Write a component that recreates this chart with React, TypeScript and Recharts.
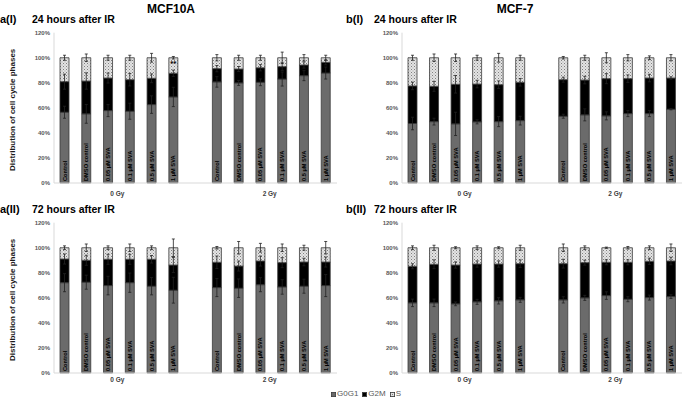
import React from "react";
import { BarChart, Bar, XAxis, YAxis, ErrorBar, LabelList } from "recharts";

const treatments = ["Control", "DMSO control", "0.05 µM SVA", "0.1 µM SVA", "0.5 µM SVA", "1 µM SVA"];
const doses = ["0 Gy", "2 Gy"];
const yTicks = [0, 20, 40, 60, 80, 100, 120];

// MCF10A, 24 h after IR
const a1G0G1 = [56.5, 55.2, 57.8, 57.3, 62.6, 68.7, 80.7, 79.9, 80.4, 83.0, 85.7, 87.8];
const a1G2M = [24.4, 26.2, 26.0, 25.2, 21.0, 18.9, 10.6, 11.1, 11.6, 9.9, 8.5, 8.5];
const a1S = [19.1, 18.6, 16.2, 17.5, 16.4, 12.4, 8.7, 9.0, 8.0, 7.1, 5.8, 3.7];
const a1G0G1Err = [4.8, 7.5, 4.8, 6.4, 7, 7.7, 4.2, 2, 2.7, 5.6, 4, 4.8];
const a1G2MErr = [6, 6.5, 4, 5, 3.5, 2.5, 2.5, 2, 2.5, 3, 2.5, 2];
const a1SErr = [2, 3, 2, 2, 3.5, 1, 2.5, 2, 2, 4.5, 2.5, 2];
const a1Marks = ["", "", "", "", "", "**", "", "", "", "", "", ""];

// MCF-7, 24 h after IR
const b1G0G1 = [47.5, 49.0, 47.2, 48.8, 49.0, 49.8, 53.3, 54.4, 53.6, 55.4, 55.4, 58.9];
const b1G2M = [30.0, 28.2, 31.6, 30.2, 29.5, 30.6, 29.2, 27.8, 29.7, 27.9, 28.4, 24.9];
const b1S = [22.5, 22.8, 21.2, 21.0, 21.5, 19.6, 17.5, 17.8, 16.7, 16.7, 16.2, 16.2];
const b1G0G1Err = [5, 2.7, 9.3, 1.6, 4, 3.5, 1.6, 4.8, 3.2, 2.4, 2.4, 0.5];
const b1G2MErr = [3, 4, 7, 3, 3, 3, 2, 3, 4, 3, 3, 1];
const b1SErr = [2, 3, 3, 2, 3.5, 2, 1, 2, 4, 2.5, 1.5, 2.5];

// MCF10A, 72 h after IR
const a2G0G1 = [72.1, 72.5, 69.8, 72.1, 69.3, 66.1, 68.2, 67.7, 70.5, 68.7, 69.3, 69.8];
const a2G2M = [18.9, 17.5, 21.0, 18.7, 21.5, 20.1, 20.2, 17.7, 18.9, 19.4, 19.3, 18.8];
const a2S = [9.0, 10.0, 9.2, 9.2, 9.2, 13.8, 11.6, 14.6, 10.6, 11.9, 11.4, 11.4];
const a2G0G1Err = [7.2, 5.6, 7.4, 7.7, 6.9, 10.3, 7.2, 7.4, 5.6, 5.8, 5.6, 8.8];
const a2G2MErr = [4, 4, 4, 4, 3, 6, 5, 4, 4, 4, 3, 4];
const a2SErr = [1.5, 3, 1.5, 3, 1.5, 7, 1, 5, 3.5, 3, 2, 5];

// MCF-7, 72 h after IR
const b2G0G1 = [56.0, 56.0, 55.2, 56.8, 57.6, 58.4, 58.4, 60.0, 61.8, 58.9, 60.2, 61.0];
const b2G2M = [29.2, 30.8, 31.0, 30.2, 29.4, 28.9, 28.9, 28.1, 26.6, 29.5, 29.0, 28.4];
const b2S = [14.8, 13.2, 13.8, 13.0, 13.0, 12.7, 12.7, 11.9, 11.6, 11.6, 10.8, 10.6];
const b2G0G1Err = [3, 3, 1.5, 2, 2.5, 2, 2.5, 2, 3, 2, 2, 1.5];
const b2G2MErr = [2, 3.5, 2.5, 2.5, 2.5, 3, 3.5, 2, 2, 2, 2.5, 3];
const b2SErr = [1.5, 2, 0.8, 1.5, 0.8, 2, 3, 1.5, 0.5, 1, 1.5, 3];

const FONT = "'Liberation Sans', Arial, sans-serif";
const G0G1_FILL = "#6b6b6b";
const G2M_FILL = "#000000";
const EDGE = "#3a3a3a";

type Series = {
  g0g1: number[];
  g2m: number[];
  s: number[];
  g0g1Err: number[];
  g2mErr: number[];
  sErr: number[];
  marks?: string[];
};

function buildRows(p: Series) {
  const rows: any[] = [];
  for (let i = 0; i < 12; i++) {
    if (i === 6) rows.push({ key: "gap", treatment: "", mark: "" });
    rows.push({
      key: `${doses[Math.floor(i / 6)]}-${i % 6}`,
      treatment: treatments[i % 6],
      G0G1: p.g0g1[i],
      G2M: p.g2m[i],
      S: p.s[i],
      e1: p.g0g1Err[i],
      e2: p.g2mErr[i],
      e3: p.sErr[i],
      mark: p.marks ? p.marks[i] : "",
    });
  }
  return rows;
}

const BarName = (props: any) => {
  const { x, y, width, height, value } = props;
  if (!value) return null;
  const tx = x + width / 2 + 2;
  const ty = y + height - 2;
  return (
    <text x={tx} y={ty} transform={`rotate(-90 ${tx} ${ty})`} fontSize={5.7} fontWeight="bold" fill="#000" fontFamily={FONT} textAnchor="start">
      {value}
    </text>
  );
};

const MarkLabel = (props: any) => {
  const { x, y, width, value } = props;
  if (!value) return null;
  return (
    <text x={x + width / 2} y={y + 8} fontSize={8} fontWeight="bold" fill="#000" fontFamily={FONT} textAnchor="middle">
      {value}
    </text>
  );
};

type PanelProps = Series & {
  id: string;
  left: number;
  top: number;
  width: number;
  marginLeft: number;
  marginRight: number;
  groupDy: number;
  yTitle?: string;
};

const YAXIS_W = 36;

function Panel(p: PanelProps) {
  const rows = buildRows(p);
  const slot = (p.width - p.marginLeft - YAXIS_W - p.marginRight) / 13;
  const groupTick = (props: any) => {
    const { x, y, payload } = props;
    const idx = payload.index;
    let label = "";
    if (idx === 2) label = doses[0];
    if (idx === 9) label = doses[1];
    if (!label) return null;
    return (
      <text x={x + slot / 2 - 2} y={y + p.groupDy} fontSize={6.5} fontWeight="bold" fill="#404040" fontFamily={FONT} textAnchor="middle">
        {label}
      </text>
    );
  };
  const yTitle = (props: any) => {
    const vb = props.viewBox;
    const cx = 15;
    const cy = vb.y + vb.height / 2 + 2;
    return (
      <text x={cx} y={cy} transform={`rotate(-90 ${cx} ${cy})`} fontSize={8} fontWeight="bold" fill="#1a1a1a" fontFamily={FONT} textAnchor="middle">
        {p.yTitle}
      </text>
    );
  };
  const pid = `spat-${p.id}`;
  return (
    <div style={{ position: "absolute", left: p.left, top: p.top }}>
      <BarChart
        width={p.width}
        height={200}
        data={rows}
        margin={{ top: 32.7, right: p.marginRight, bottom: 2, left: p.marginLeft }}
        barSize={9}
      >
        <defs>
          <pattern id={pid} width="3" height="3" patternUnits="userSpaceOnUse">
            <rect width="3" height="3" fill="#e4e4e4" />
            <rect x="0" y="0" width="1" height="1" fill="#808080" />
            <rect x="1.5" y="1.5" width="1" height="1" fill="#a0a0a0" />
          </pattern>
        </defs>
        <XAxis
          dataKey="key"
          height={15}
          interval={0}
          tickLine={false}
          tickSize={0}
          tickMargin={2}
          axisLine={{ stroke: "#d9d9d9" }}
          tick={groupTick}
        />
        <XAxis xAxisId="top" dataKey="key" orientation="top" height={0} tick={false} tickLine={false} axisLine={{ stroke: "#d9d9d9" }} />
        <YAxis
          width={YAXIS_W}
          domain={[0, 120]}
          ticks={yTicks}
          tickFormatter={(v: number) => `${v}%`}
          tickLine={false}
          tickSize={0}
          tickMargin={4}
          axisLine={{ stroke: "#d9d9d9" }}
          tick={{ fontSize: 6, fontWeight: "bold", fill: "#595959", fontFamily: FONT }}
          label={p.yTitle ? { content: yTitle } : undefined}
        />
        <YAxis yAxisId="right" orientation="right" width={0} domain={[0, 120]} tick={false} tickLine={false} axisLine={{ stroke: "#d9d9d9" }} />
        <Bar dataKey="G0G1" stackId="a" fill={G0G1_FILL} stroke={EDGE} strokeWidth={0.8} isAnimationActive={false}>
          <ErrorBar dataKey="e1" direction="y" width={1.5} stroke="#222" strokeWidth={0.8} />
          <LabelList dataKey="treatment" content={BarName} />
        </Bar>
        <Bar dataKey="G2M" stackId="a" fill={G2M_FILL} stroke={EDGE} strokeWidth={0.8} isAnimationActive={false}>
          <ErrorBar dataKey="e2" direction="y" width={1.5} stroke="#222" strokeWidth={0.8} />
        </Bar>
        <Bar dataKey="S" stackId="a" fill={`url(#${pid})`} stroke={EDGE} strokeWidth={0.8} isAnimationActive={false}>
          <ErrorBar dataKey="e3" direction="y" width={1.5} stroke="#222" strokeWidth={0.8} />
          <LabelList dataKey="mark" content={MarkLabel} />
        </Bar>
      </BarChart>
    </div>
  );
}

const txt = (left: number, top: number, text: string, size: number, extra: any = {}) => (
  <div
    style={{
      position: "absolute",
      left,
      top,
      fontSize: size,
      fontWeight: "bold",
      fontFamily: FONT,
      color: "#000",
      lineHeight: 1,
      whiteSpace: "nowrap",
      ...extra,
    }}
  >
    {text}
  </div>
);

const LegendSwatch = ({ kind }: { kind: string }) => (
  <svg width={5} height={5} style={{ marginRight: 1 }}>
    <defs>
      <pattern id="legpat" width="2" height="2" patternUnits="userSpaceOnUse">
        <rect width="2" height="2" fill="#e0e0e0" />
        <rect width="1" height="1" fill="#808080" />
      </pattern>
    </defs>
    <rect
      x={0.4}
      y={0.4}
      width={4.2}
      height={4.2}
      fill={kind === "G0G1" ? G0G1_FILL : kind === "G2M" ? G2M_FILL : "url(#legpat)"}
      stroke={EDGE}
      strokeWidth={0.8}
    />
  </svg>
);

const legendItems = ["G0G1", "G2M", "S"];

export default function App() {
  return (
    <div style={{ position: "absolute", left: 0, top: 0, width: 684, height: 403, background: "#fff", overflow: "hidden" }}>
      {txt(146, 3, "MCF10A", 12, { width: 50, textAlign: "center" })}
      {txt(495, 3, "MCF-7", 12, { width: 40, textAlign: "center" })}

      {txt(0, 14, "a(I)", 11)}
      {txt(32, 14, "24 hours after IR", 10.5)}
      {txt(346, 14, "b(I)", 11)}
      {txt(374, 14, "24 hours after IR", 10.5)}
      {txt(0, 204, "a(II)", 11)}
      {txt(32, 204, "72 hours after IR", 10.5)}
      {txt(346, 204, "b(II)", 11)}
      {txt(374, 204, "72 hours after IR", 10.5)}

      <Panel id="a1" left={0} top={0} width={340} marginLeft={18} marginRight={3} groupDy={11} yTitle="Distribution of cell cycle phases"
        g0g1={a1G0G1} g2m={a1G2M} s={a1S} g0g1Err={a1G0G1Err} g2mErr={a1G2MErr} sErr={a1SErr} marks={a1Marks} />
      <Panel id="b1" left={342} top={0} width={342} marginLeft={24} marginRight={2} groupDy={11}
        g0g1={b1G0G1} g2m={b1G2M} s={b1S} g0g1Err={b1G0G1Err} g2mErr={b1G2MErr} sErr={b1SErr} />
      <Panel id="a2" left={0} top={190} width={340} marginLeft={18} marginRight={3} groupDy={7} yTitle="Distribution of cell cycle phases"
        g0g1={a2G0G1} g2m={a2G2M} s={a2S} g0g1Err={a2G0G1Err} g2mErr={a2G2MErr} sErr={a2SErr} />
      <Panel id="b2" left={342} top={190} width={342} marginLeft={24} marginRight={2} groupDy={7}
        g0g1={b2G0G1} g2m={b2G2M} s={b2S} g0g1Err={b2G0G1Err} g2mErr={b2G2MErr} sErr={b2SErr} />

      <div style={{ position: "absolute", left: 331, top: 390, display: "flex", alignItems: "center", fontFamily: FONT, fontSize: 8, color: "#595959", lineHeight: 1 }}>
        {legendItems.map((k) => (
          <div key={k} style={{ display: "flex", alignItems: "center", marginRight: 4 }}>
            <LegendSwatch kind={k} />
            <span>{k}</span>
          </div>
        ))}
      </div>
    </div>
  );
}
